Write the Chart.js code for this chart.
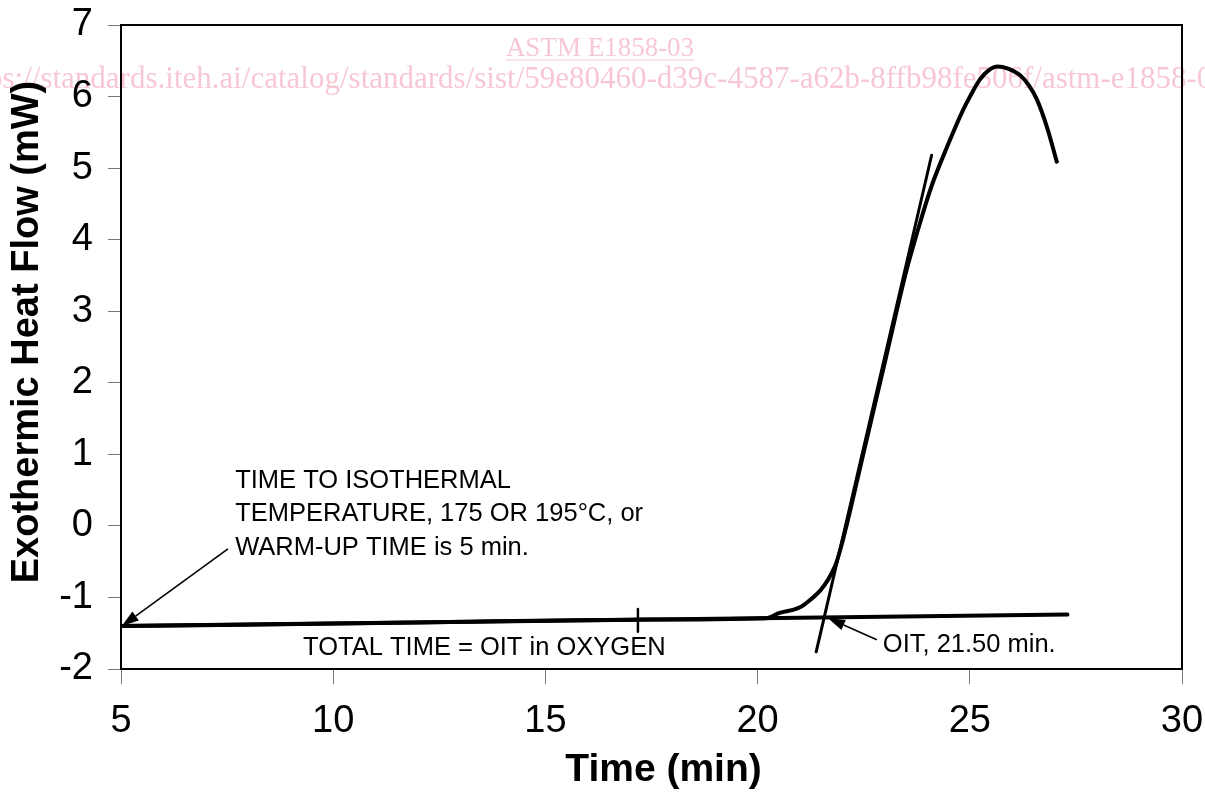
<!DOCTYPE html>
<html>
<head>
<meta charset="utf-8">
<title>OIT</title>
<script src="https://cdn.jsdelivr.net/npm/chart.js@4"></script>
<style>
  html, body { margin: 0; padding: 0; background: #fff; }
  #wrap { width: 1205px; height: 792px; }
</style>
</head>
<body>
<div id="wrap"><canvas id="oit" width="1205" height="792"></canvas></div>
<script>
// heat flow trace (min, mW)
const curveTime = [5, 12, 17, 20.2, 20.5, 21.1, 21.82, 22.0, 22.5, 23.0, 23.5, 23.85, 24.1, 24.46, 24.84, 25.05, 25.24, 25.45, 25.66, 25.9, 26.18, 26.4, 26.58, 26.82, 27.05];
const curveHeat = [-1.40, -1.35, -1.31, -1.29, -1.22, -1.10, -0.57, -0.22, 1.03, 2.29, 3.55, 4.28, 4.75, 5.29, 5.81, 6.05, 6.24, 6.37, 6.42, 6.39, 6.30, 6.15, 5.96, 5.57, 5.09];

// extrapolated baseline, onset tangent, end-of-time mark
const baseTime = [5, 27.3];
const baseHeat = [-1.40, -1.24];
const tangentTime = [21.38, 24.10];
const tangentHeat = [-1.76, 5.18];
const markTime = [17.18, 17.18];
const markHeat = [-1.48, -1.16];

const xTicks = [5, 10, 15, 20, 25, 30];
const yTicks = [-2, -1, 0, 1, 2, 3, 4, 5, 6, 7];

const xTitle = "Time (min)";
const yTitle = "Exothermic Heat Flow (mW)";

const noteText = [
  { text: "TIME TO ISOTHERMAL", t: 7.69, v: 0.63 },
  { text: "TEMPERATURE, 175 OR 195\u00B0C, or", t: 7.69, v: 0.16 },
  { text: "WARM-UP TIME is 5 min.", t: 7.69, v: -0.31 },
  { text: "TOTAL TIME = OIT in OXYGEN", t: 9.29, v: -1.71 },
  { text: "OIT, 21.50 min.", t: 22.95, v: -1.66 }
];
const noteArrows = [
  { from: [7.52, -0.32], to: [5.02, -1.40] },
  { from: [22.81, -1.59], to: [21.66, -1.29] }
];

const pts = (xs, ys) => xs.map((x, i) => ({ x: x, y: ys[i] }));
const FONT = "'Liberation Sans', Arial, sans-serif";

const frame = {
  id: "frame",
  afterDraw: (chart) => {
    const { ctx, chartArea: a } = chart;
    ctx.save();
    ctx.strokeStyle = "#000";
    ctx.lineWidth = 2;
    ctx.beginPath();
    ctx.moveTo(a.left, a.top);
    ctx.lineTo(a.right, a.top);
    ctx.lineTo(a.right, a.bottom);
    ctx.stroke();

    // axis titles
    ctx.fillStyle = "#000";
    ctx.font = "bold 39px " + FONT;
    ctx.textAlign = "center";
    ctx.textBaseline = "middle";
    ctx.fillText(xTitle, (a.left + a.right) / 2 + 12, 770);
    ctx.translate(28, (a.top + a.bottom) / 2 - 15);
    ctx.rotate(-Math.PI / 2);
    ctx.font = "bold 38px " + FONT;
    ctx.fillText(yTitle, 0, 0);
    ctx.restore();
  },
};

const watermark = {
  id: "watermark",
  beforeDraw: (chart) => {
    const { ctx } = chart;
    ctx.save();
    ctx.fillStyle = "rgb(247,200,212)";
    ctx.strokeStyle = "rgb(247,200,212)";
    ctx.font = "27px 'Liberation Serif', 'Times New Roman', serif";
    ctx.textBaseline = "alphabetic";
    ctx.textAlign = "center";
    const head = "ASTM E1858-03";
    ctx.fillText(head, 600, 56);
    const w = ctx.measureText(head).width;
    ctx.lineWidth = 1.2;
    ctx.beginPath();
    ctx.moveTo(600 - w / 2, 60);
    ctx.lineTo(600 + w / 2, 60);
    ctx.stroke();
    ctx.font = "31px 'Liberation Serif', 'Times New Roman', serif";
    const url = "https://standards.iteh.ai/catalog/standards/sist/59e80460-d39c-4587-a62b-8ffb98fe506f/astm-e1858-03";
    const pre = "https://standards.iteh.ai/catalog/standards/sist/59e80";
    ctx.textAlign = "left";
    ctx.fillText(url, 600 - ctx.measureText(pre).width, 88);
    ctx.restore();
  },
};

const notes = {
  id: "notes",
  afterDatasetsDraw: (chart) => {
    const { ctx, scales: { x, y } } = chart;
    ctx.save();
    ctx.fillStyle = "#000";
    ctx.font = "25.5px " + FONT;
    ctx.textBaseline = "middle";
    ctx.textAlign = "left";
    noteText.forEach((n) => ctx.fillText(n.text, x.getPixelForValue(n.t), y.getPixelForValue(n.v)));

    ctx.strokeStyle = "#000";
    ctx.lineWidth = 1.6;
    noteArrows.forEach((a) => {
      const x0 = x.getPixelForValue(a.from[0]), y0 = y.getPixelForValue(a.from[1]);
      const x1 = x.getPixelForValue(a.to[0]), y1 = y.getPixelForValue(a.to[1]);
      const ang = Math.atan2(y1 - y0, x1 - x0);
      const len = 17, half = 5.5;
      const bx = x1 - len * Math.cos(ang), by = y1 - len * Math.sin(ang);
      ctx.beginPath();
      ctx.moveTo(x0, y0);
      ctx.lineTo(bx, by);
      ctx.stroke();
      ctx.beginPath();
      ctx.moveTo(x1, y1);
      ctx.lineTo(bx + half * Math.sin(ang), by - half * Math.cos(ang));
      ctx.lineTo(bx - half * Math.sin(ang), by + half * Math.cos(ang));
      ctx.closePath();
      ctx.fill();
    });
    ctx.restore();
  },
};

const line = (data, width) => ({
  data: data,
  showLine: true,
  borderColor: "#000",
  backgroundColor: "#000",
  borderWidth: width,
  pointRadius: 0,
  fill: false,
  borderCapStyle: "round",
  borderJoinStyle: "round",
});

const curve = line(pts(curveTime, curveHeat), 4);
curve.cubicInterpolationMode = "monotone";

const noPad = (s) => { s.paddingTop = 0; s.paddingBottom = 0; s.paddingLeft = 0; s.paddingRight = 0; };

new Chart(document.getElementById("oit"), {
  type: "scatter",
  data: {
    datasets: [
      line(pts(baseTime, baseHeat), 4),
      line(pts(tangentTime, tangentHeat), 3),
      line(pts(markTime, markHeat), 2.5),
      curve,
    ],
  },
  options: {
    responsive: false,
    animation: false,
    devicePixelRatio: 1,
    layout: { padding: { top: 25, right: 23, left: 0, bottom: 0 } },
    plugins: { legend: { display: false }, tooltip: { enabled: false } },
    scales: {
      x: {
        type: "linear",
        min: 5,
        max: 30,
        afterBuildTicks: (s) => { s.ticks = xTicks.map((v) => ({ value: v })); },
        afterFit: (s) => { s.height = 123; noPad(s); },
        ticks: { color: "#000", font: { family: FONT, size: 38 }, padding: 15, maxRotation: 0 },
        grid: { drawOnChartArea: false, drawTicks: true, tickLength: 15, color: "#777", lineWidth: 1 },
        border: { color: "#000", width: 2 },
      },
      y: {
        type: "linear",
        min: -2,
        max: 7,
        afterBuildTicks: (s) => { s.ticks = yTicks.map((v) => ({ value: v })); },
        afterFit: (s) => { s.width = 121; noPad(s); },
        ticks: { color: "#000", font: { family: FONT, size: 38 }, padding: 15 },
        grid: { drawOnChartArea: false, drawTicks: true, tickLength: 13, color: "#777", lineWidth: 1 },
        border: { color: "#000", width: 2 },
      },
    },
  },
  plugins: [watermark, notes, frame],
});
</script>
</body>
</html>
